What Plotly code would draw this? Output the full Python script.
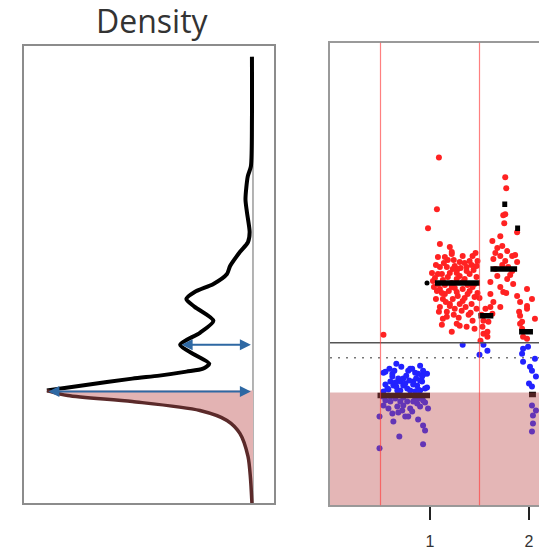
import plotly.graph_objects as go

# ---------------- Left panel: rotated density ----------------
# value axis (shared meaning with right panel), density values
dens_upper_v = [3.37, 2.74, 2.27, 2.17, 1.94, 1.81, 1.61, 1.51, 1.41, 1.27, 1.19, 1.09, 1.01,
                0.94, 0.86, 0.72, 0.60, 0.48, 0.38, 0.29, 0.24, 0.21, 0.17, 0.14, 0.07, 0.02]
dens_upper_d = [0.005, 0.005, 0.01, 0.025, 0.036, 0.029, 0.016, 0.024, 0.063, 0.11, 0.125, 0.19, 0.28,
                0.32, 0.28, 0.19, 0.255, 0.35, 0.28, 0.21, 0.24, 0.32, 0.45, 0.58, 0.82, 0.99]
dens_lower_v = [0.02, -0.03, -0.09, -0.18, -0.28, -0.41, -0.64, -0.86, -1.11, -1.15]
dens_lower_d = [0.99, 0.89, 0.58, 0.255, 0.125, 0.063, 0.024, 0.012, 0.005, 0.004]

arrow_levels = [0.48, 0.01]
arrow_dens = [0.35, 0.99]

# ---------------- Right panel: segmented points ----------------
red_x = [1.09, 1.07, 0.98, 1.10, 1.20, 1.22, 1.08, 1.43, 1.40, 1.48, 1.18, 1.10, 1.25, 1.28, 1.17, 1.37,
         1.47, 1.08, 1.40, 1.22, 1.30, 1.23, 1.37, 1.12, 1.30, 1.18, 1.27, 1.47, 1.03, 1.15, 1.33, 1.45,
         1.22, 1.10, 1.22, 1.33, 1.43, 1.15, 1.27, 1.38, 1.13, 1.23, 1.33, 1.45, 1.20, 1.30, 1.42, 1.17,
         1.32, 1.13, 1.43, 1.30, 1.45, 1.07, 1.20, 1.27, 1.06, 1.17, 1.05, 1.13, 1.25, 1.35, 1.40, 1.12,
         1.28, 1.36, 1.25, 1.10, 1.47, 1.39, 1.35, 1.15, 1.27, 1.44, 1.20, 1.08, 1.38,
         1.02, 1.06, 1.14, 1.24, 1.33, 1.42, 1.46, 1.31, 1.19, 1.35, 1.09, 1.24, 1.41, 1.48, 1.04, 1.16,
         1.29, 1.37, 1.22, 1.12,
         0.53,
         1.54, 1.58, 1.56, 1.61, 1.54, 1.59, 1.58, 1.51, 1.53, 1.63, 1.52, 1.50,
         1.76, 1.77, 1.76, 1.74, 1.75, 1.88, 1.63, 1.71, 1.68, 1.73, 1.78, 1.83, 1.86, 1.71, 1.76, 1.64,
         1.88, 1.68, 1.61, 1.78, 1.84, 1.71, 1.98, 1.61, 1.74, 1.88, 1.64, 1.91, 1.71, 1.98, 1.91, 1.91,
         1.79, 1.66, 1.83, 1.73, 1.81, 1.66, 1.77,
         1.98, 1.90, 1.93, 1.94, 1.98, 1.93, 2.03, 2.06]
red_y = [2.36, 1.84, 1.65, 1.49, 1.46, 1.39, 1.36, 1.37, 1.32, 1.32, 1.33, 1.26, 1.27, 1.24, 1.26, 1.26,
         1.27, 1.19, 1.19, 1.41, 1.31, 1.24, 1.22, 1.19, 1.17, 1.16, 1.14, 1.16, 1.12, 1.08, 1.11, 1.09,
         1.10, 1.04, 1.06, 1.04, 1.06, 0.99, 1.01, 0.99, 0.94, 0.94, 0.92, 0.96, 0.89, 0.89, 0.89, 0.81,
         0.82, 0.74, 0.72, 0.67, 0.64, 1.02, 0.87, 0.69, 0.94, 0.76, 1.15, 1.13, 1.05, 1.14, 1.02, 1.00,
         0.97, 0.86, 0.84, 0.86, 0.84, 0.78, 1.30, 1.36, 1.20, 1.23, 1.20, 1.09, 1.08,
         1.20, 1.28, 1.30, 1.33, 1.37, 1.28, 1.40, 1.25, 1.02, 0.95, 0.81, 0.78, 0.80, 1.00, 1.06, 0.91,
         0.75, 0.66, 0.61, 0.68,
         0.58,
         0.59, 0.61, 0.84, 0.86, 0.72, 0.71, 0.56, 0.52, 0.66, 0.79, 0.78, 0.95,
         2.16, 2.05, 1.79, 1.78, 1.70, 1.61, 1.52, 1.57, 1.45, 1.47, 1.42, 1.37, 1.38, 1.37, 1.32, 1.34,
         1.31, 1.17, 1.11, 1.14, 1.09, 1.06, 1.04, 0.99, 1.01, 0.97, 0.91, 0.91, 0.86, 0.84, 0.77, 0.69,
         1.26, 1.24, 1.22, 1.28, 1.18, 1.40, 1.00,
         0.87, 0.81, 0.71, 0.56, 0.54, 0.64, 0.94, 0.74]

blue_x = [0.66, 0.90, 0.82, 0.78, 0.53, 0.93, 0.88, 0.62, 0.68, 0.70, 0.60, 0.83, 0.63, 0.73, 0.87, 0.92,
          0.57, 0.77, 0.80, 0.90, 0.67, 0.53, 0.85, 0.95, 0.97, 0.55, 0.80, 0.73, 0.83, 0.97, 0.58, 0.70,
          0.62, 0.90, 0.93, 0.75, 0.65, 0.86,
          0.59, 0.71, 0.85, 0.76, 0.66, 0.88, 0.55, 0.92, 0.64, 0.79,
          0.55, 0.60, 0.70, 0.77, 0.83, 0.93, 0.53, 0.58, 0.67, 0.73, 0.80, 0.90, 0.98, 0.49, 0.75, 0.63,
          0.93, 0.95, 0.69, 0.93, 0.49, 0.87, 0.82, 0.72, 0.62, 0.78, 0.65, 0.88, 0.52,
          0.60, 0.85, 0.73, 0.95, 0.68, 0.88,
          1.33, 1.54, 1.58, 1.50,
          1.94, 1.99, 1.93, 1.94, 2.01, 2.03, 2.00, 2.03, 2.06, 2.07,
          2.03, 2.04, 2.04, 2.03, 2.07]
blue_y = [0.29, 0.27, 0.24, 0.22, 0.20, 0.18, 0.19, 0.16, 0.14, 0.11, 0.11, 0.11, 0.07, 0.07, 0.07, 0.11,
          0.04, 0.04, 0.02, 0.02, 0.02, 0.01, 0.01, 0.04, 0.19, 0.21, 0.24, 0.14, 0.08, 0.05, 0.03, 0.02,
          0.19, 0.12, 0.22, 0.09, 0.10, 0.14,
          0.24, 0.26, 0.20, 0.17, 0.06, 0.03, 0.08, 0.16, 0.22, 0.12,
          -0.08, -0.09, -0.09, -0.09, -0.09, -0.08, -0.13, -0.16, -0.14, -0.13, -0.16, -0.14, -0.16, -0.24,
          -0.24, -0.29, -0.33, -0.38, -0.44, -0.52, -0.56, -0.11, -0.19, -0.18, -0.21, -0.24, -0.06, -0.06,
          -0.04,
          -0.04, -0.05, -0.05, -0.10, -0.20, -0.27,
          0.48, 0.48, 0.42, 0.38,
          0.44, 0.46, 0.39, 0.31, 0.26, 0.22, 0.09, 0.06, 0.34, 0.16,
          -0.13, -0.23, -0.31, -0.39, -0.18]

seg_start = [0.47, 1.05, 1.49, 1.61, 1.73, 1.86, 1.90, 2.00]
seg_end = [1.00, 1.505, 1.64, 1.88, 1.78, 1.91, 2.04, 2.07]
seg_level = [-0.03, 1.10, 0.77, 1.24, 1.89, 1.65, 0.61, -0.02]
lone_seg_x = [0.97]
lone_seg_y = [1.10]

boundaries = [0.5, 1.5]
loss_threshold = 0.0
solid_level = 0.50
dotted_level = 0.35
tick_vals = [1, 2]
tick_text = ["1", "2"]

W, H = 539, 550
fig = go.Figure()

# left panel traces
fig.add_trace(go.Scatter(x=[0, 0], y=[dens_upper_v[0], dens_lower_v[-1]], mode="lines",
                         line=dict(color="#9a9a9a", width=1.5), xaxis="x", yaxis="y",
                         showlegend=False, hoverinfo="skip"))
fig.add_trace(go.Scatter(x=dens_upper_d, y=dens_upper_v, mode="lines",
                         line=dict(color="black", width=4, shape="spline", smoothing=0.7),
                         xaxis="x", yaxis="y", showlegend=False))
fig.add_trace(go.Scatter(x=dens_lower_d, y=dens_lower_v, mode="lines", fill="tozerox",
                         fillcolor="#e3b3b3", line=dict(width=0, shape="spline", smoothing=0.8),
                         xaxis="x", yaxis="y", showlegend=False))
fig.add_trace(go.Scatter(x=dens_lower_d, y=dens_lower_v, mode="lines",
                         line=dict(color="#5b2a2a", width=3.5, shape="spline", smoothing=0.8),
                         xaxis="x", yaxis="y", showlegend=False))

# right panel traces
fig.add_trace(go.Scatter(x=red_x, y=red_y, mode="markers",
                         marker=dict(color="#ff2222", size=6), xaxis="x2", yaxis="y2",
                         showlegend=False))
fig.add_trace(go.Scatter(x=blue_x, y=blue_y, mode="markers",
                         marker=dict(color="#2222ff", size=6), xaxis="x2", yaxis="y2",
                         showlegend=False))
sx, sy = [], []
for a, b, l in zip(seg_start, seg_end, seg_level):
    sx += [a, b, None]
    sy += [l, l, None]
fig.add_trace(go.Scatter(x=sx, y=sy, mode="lines", line=dict(color="black", width=5.5),
                         xaxis="x2", yaxis="y2", showlegend=False))
fig.add_trace(go.Scatter(x=lone_seg_x, y=lone_seg_y, mode="markers",
                         marker=dict(color="black", size=5), xaxis="x2", yaxis="y2",
                         showlegend=False))

shapes = [
    dict(type="rect", xref="x2 domain", yref="y2", x0=0, x1=1, y0=-1.13, y1=loss_threshold,
         fillcolor="rgba(190,80,80,0.42)", line=dict(width=0), layer="above"),
    dict(type="line", xref="x2 domain", yref="y2", x0=0, x1=1, y0=solid_level, y1=solid_level,
         line=dict(color="#555555", width=1.5), layer="above"),
    dict(type="line", xref="x2 domain", yref="y2", x0=0, x1=1, y0=dotted_level, y1=dotted_level,
         line=dict(color="#777777", width=1.5, dash="2px,6px"), layer="above"),
]
for bx in boundaries:
    shapes.append(dict(type="line", xref="x2", yref="y2 domain", x0=bx, x1=bx, y0=0, y1=1,
                       line=dict(color="rgba(255,60,60,0.65)", width=1.2), layer="above"))

annotations = [dict(text="Density", x=152 / W, y=1 - 21 / H, xref="paper", yref="paper",
                    xanchor="center", yanchor="middle", showarrow=False,
                    font=dict(family="Open Sans, sans-serif", size=32, color="#333333"))]
for lv, dv in zip(arrow_levels, arrow_dens):
    annotations.append(dict(text="", x=0.01, y=lv, ax=dv, ay=lv, xref="x", yref="y",
                            axref="x", ayref="y", showarrow=True, arrowhead=2, startarrowhead=2,
                            arrowside="end+start", arrowsize=1.1, startarrowsize=1.1,
                            arrowwidth=2, arrowcolor="#2e68a3", standoff=0, startstandoff=0))

axis_common = dict(showgrid=False, zeroline=False, showticklabels=False, ticks="")
fig.update_layout(
    width=W, height=H, autosize=False,
    margin=dict(l=0, r=0, t=0, b=0),
    paper_bgcolor="white", plot_bgcolor="white",
    xaxis=dict(domain=[24 / W, 274 / W], range=[1.10, -0.101], showline=True, mirror=True,
               linecolor="#8c8c8c", linewidth=2, **axis_common),
    yaxis=dict(domain=[1 - 505 / H, 1 - 46 / H], range=[-1.11, 3.48], showline=True, mirror=True,
               linecolor="#8c8c8c", linewidth=2, **axis_common),
    xaxis2=dict(domain=[330 / W, 1.0], range=[-0.0101, 2.101], showgrid=False, zeroline=False,
                showline=True, mirror=True, linecolor="#9a9a9a", linewidth=2,
                tickvals=tick_vals, ticktext=tick_text, ticks="outside", ticklen=13, tickwidth=2,
                tickcolor="#222222", ticklabelstandoff=8,
                tickfont=dict(family="Liberation Sans, Arial, sans-serif", size=16, color="#333333"),
                anchor="y2"),
    yaxis2=dict(domain=[1 - 507 / H, 1 - 43 / H], range=[-1.13, 3.51], showline=True, mirror=False,
                linecolor="#9a9a9a", linewidth=2, anchor="x2", **axis_common),
    shapes=shapes,
    annotations=annotations,
)

fig.write_html("out.html", config={"displayModeBar": False},
               post_script="document.body.style.margin='0';document.body.style.overflow='hidden';")
